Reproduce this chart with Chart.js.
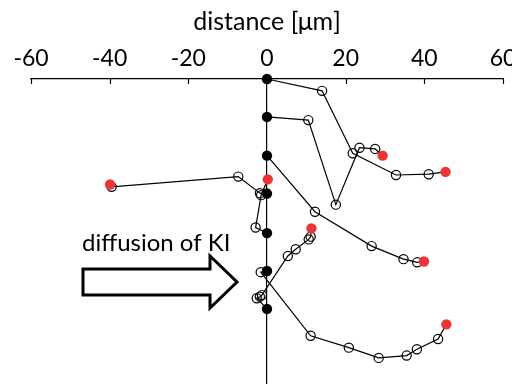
<!DOCTYPE html>
<html>
<head>
<meta charset="utf-8">
<script src="https://cdn.jsdelivr.net/npm/chart.js@4/dist/chart.umd.min.js"></script>
<style>
  html, body { margin: 0; padding: 0; background: #ffffff; }
  #wrap { width: 512px; height: 384px; }
</style>
</head>
<body>
<div id="wrap"><canvas id="c" width="512" height="384"></canvas></div>
<script>
// ---- data (x: distance in µm, y: depth in µm, downward) ----
const xTicks = [-60, -40, -20, 0, 20, 40, 60];

const t1x = [0, 14.0, 21.8, 32.8, 41.1, 45.4];
const t1y = [0, 3.0, 18.8, 24.3, 24.1, 23.5];

const t2x = [0, 10.5, 17.5, 23.5, 27.5, 29.4];
const t2y = [9.6, 10.4, 31.8, 17.4, 17.7, 19.4];

const t3x = [0, 12.2, 26.6, 34.7, 38.2, 39.9];
const t3y = [19.4, 33.6, 42.3, 45.6, 46.4, 46.2];

const t4x = [0, -1.8, -7.3, -39.5, -39.9];
const t4y = [29.0, 28.9, 24.7, 27.3, 26.7];

const t5x = [0, -2.9, -1.5, 0.2];
const t5y = [39.0, 37.6, 29.4, 25.4];

const t6x = [0, -1.6, 11.1, 20.8, 28.4, 35.5, 38.1, 43.5, 45.6];
const t6y = [48.6, 48.9, 65.0, 68.0, 70.6, 70.0, 68.4, 65.8, 62.1];

const t7x = [0, -2.6, -1.8, -1.3, 5.3, 7.3, 10.6, 11.1, 11.3];
const t7y = [58.2, 55.5, 55.1, 54.7, 44.8, 43.1, 40.6, 39.9, 37.8];

const arrowLabel = 'diffusion of KI';
const axisTitle = 'distance [μm]';

// ---- build datasets ----
const tracks = [[t1x, t1y], [t2x, t2y], [t3x, t3y], [t4x, t4y], [t5x, t5y], [t6x, t6y], [t7x, t7y]];
const toPts = (xs, ys) => xs.map((x, i) => ({x: x, y: ys[i]}));

const startPts = tracks.map(([xs, ys]) => ({x: xs[0], y: ys[0]}));
const endPts = tracks.map(([xs, ys]) => ({x: xs[xs.length - 1], y: ys[ys.length - 1]}));

const datasets = [];
datasets.push({
  label: 'start', data: startPts, showLine: false,
  pointRadius: 5.2, pointBackgroundColor: '#000000', pointBorderColor: '#000000', pointBorderWidth: 0,
  clip: false
});
datasets.push({
  label: 'end', data: endPts, showLine: false,
  pointRadius: 5.2, pointBackgroundColor: '#EE3535', pointBorderColor: '#EE3535', pointBorderWidth: 0,
  clip: false
});
tracks.forEach(([xs, ys], k) => {
  const n = xs.length;
  datasets.push({
    label: 'track ' + (k + 1), data: toPts(xs, ys), showLine: true,
    borderColor: '#000000', borderWidth: 1.2, tension: 0,
    pointRadius: (ctx) => (ctx.dataIndex === 0 || ctx.dataIndex === n - 1) ? 0 : 4.6,
    pointBackgroundColor: 'rgba(0,0,0,0)', pointBorderColor: '#000000', pointBorderWidth: 1.2,
    clip: false
  });
});

const FONT = "Lato, 'Open Sans', sans-serif";

const decor = {
  id: 'decor',
  afterDraw(chart) {
    const ctx = chart.ctx;
    const xs = chart.scales.x;
    const top = chart.chartArea.top;
    ctx.save();
    // tick marks pointing down from the axis line
    ctx.strokeStyle = '#000'; ctx.lineWidth = 1.2;
    xs.ticks.forEach(t => {
      const px = Math.round(xs.getPixelForValue(t.value)) + 0.5;
      ctx.beginPath(); ctx.moveTo(px, top); ctx.lineTo(px, top + 5); ctx.stroke();
    });
    // arrow annotation
    ctx.lineWidth = 3; ctx.lineJoin = 'miter';
    ctx.fillStyle = '#fff';
    ctx.beginPath();
    ctx.moveTo(83, 269); ctx.lineTo(210, 269); ctx.lineTo(210, 256);
    ctx.lineTo(237, 282); ctx.lineTo(210, 308); ctx.lineTo(210, 295);
    ctx.lineTo(83, 295); ctx.closePath();
    ctx.fill(); ctx.stroke();
    // arrow text
    ctx.fillStyle = '#000';
    ctx.font = '24px ' + FONT;
    ctx.textBaseline = 'alphabetic'; ctx.textAlign = 'left';
    ctx.fillText(arrowLabel, 82, 251);
    ctx.restore();
  }
};

new Chart(document.getElementById('c'), {
  type: 'scatter',
  data: { datasets: datasets },
  options: {
    responsive: false, animation: false,
    layout: { autoPadding: false, padding: { left: 31, right: 9, top: 0, bottom: 0 } },
    plugins: { legend: { display: false }, tooltip: { enabled: false } },
    scales: {
      x: {
        type: 'linear', position: 'top', min: -60, max: 60,
        afterBuildTicks: (s) => { s.ticks = xTicks.map(v => ({value: v})); },
        afterFit: (s) => { s.height = 79; s.paddingLeft = 0; s.paddingRight = 0; s.paddingTop = 0; s.paddingBottom = 0; },
        ticks: { color: '#000', font: { family: FONT, size: 23 }, padding: 7, maxRotation: 0 },
        grid: { display: false, drawTicks: false, tickLength: 0 },
        border: { display: true, color: '#000', width: 1.2 },
        title: { display: true, text: axisTitle, color: '#000', font: { family: FONT, size: 25 }, padding: { top: 7, bottom: 0 } }
      },
      y: {
        type: 'linear', reverse: true, min: 0, max: 77.2, position: { x: 0 },
        afterFit: (s) => { s.width = 0; s.paddingTop = 0; s.paddingBottom = 0; s.paddingLeft = 0; s.paddingRight = 0; },
        ticks: { display: false },
        grid: { display: false, drawTicks: false, tickLength: 0 },
        border: { display: true, color: '#000', width: 1.2 }
      }
    }
  },
  plugins: [decor]
});
</script>
</body>
</html>
